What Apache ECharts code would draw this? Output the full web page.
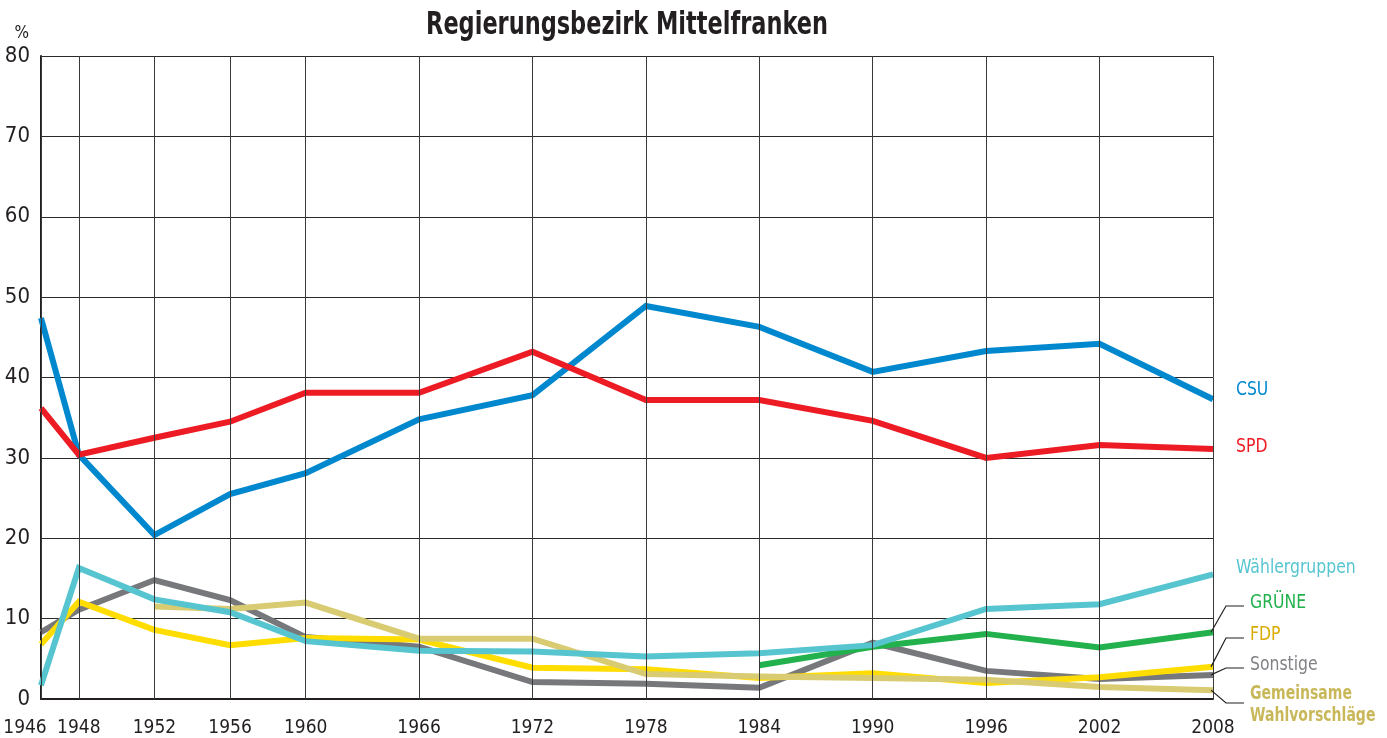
<!DOCTYPE html>
<html>
<head>
<meta charset="utf-8">
<script src="https://cdn.jsdelivr.net/npm/echarts@6/dist/echarts.min.js"></script>
<style>
  html, body { margin: 0; padding: 0; background: #fff; }
  #chart { width: 1387px; height: 738px; }
</style>
</head>
<body>
<div id="chart"></div>
<script>
const FONT = "'Liberation Sans Narrow', 'DejaVu Sans Condensed', sans-serif";

// election years (x axis) and y ticks
const years = [1946, 1948, 1952, 1956, 1960, 1966, 1972, 1978, 1984, 1990, 1996, 2002, 2008];
const yTicks = [0, 10, 20, 30, 40, 50, 60, 70, 80];

// vote shares in %, null where the party did not run
const csu = [47.4, 30.4, 20.4, 25.5, 28.1, 34.8, 37.8, 48.9, 46.3, 40.7, 43.3, 44.2, 37.3];
const spd = [36.2, 30.4, 32.5, 34.5, 38.1, 38.1, 43.2, 37.2, 37.2, 34.6, 30.0, 31.6, 31.1];
const waehlergruppen = [1.7, 16.3, 12.4, 10.8, 7.2, 6.0, 5.9, 5.3, 5.7, 6.7, 11.2, 11.8, 15.5];
const sonstige = [8.3, 11.1, 14.8, 12.3, 7.7, 6.5, 2.1, 1.9, 1.4, 7.0, 3.5, 2.5, 3.0];
const fdp = [6.8, 12.1, 8.6, 6.7, 7.6, 7.4, 3.9, 3.7, 2.6, 3.2, 2.0, 2.7, 4.0];
const gemeinsame = [null, null, 11.5, 11.2, 12.0, 7.5, 7.5, 3.1, 2.8, 2.6, 2.4, 1.5, 1.1];
const gruene = [null, null, null, null, null, null, null, null, 4.2, 6.5, 8.1, 6.4, 8.3];

const parties = [
  { name: "Sonstige", data: sonstige, color: "#77787b", labelColor: "#808285", labelY: 665, leader: true },
  { name: "FDP", data: fdp, color: "#ffdd00", labelColor: "#d9ad00", labelY: 635, leader: true },
  { name: "Gemeinsame\nWahlvorschläge", data: gemeinsame, color: "#d9cb72", labelColor: "#c9b85a", labelY: 705, leader: true, bold: true },
  { name: "GRÜNE", data: gruene, color: "#22b14c", labelColor: "#22b14c", labelY: 603, leader: true },
  { name: "Wählergruppen", data: waehlergruppen, color: "#56c5d0", labelColor: "#56c5d0", labelY: 568 },
  { name: "CSU", data: csu, color: "#0088cf", labelColor: "#0088cf", labelY: 390 },
  { name: "SPD", data: spd, color: "#ed1c24", labelColor: "#ed1c24", labelY: 447 },
];

const chart = echarts.init(document.getElementById("chart"));

const series = [
  {
    // holds the vertical grid lines at each election year, under the data
    type: "line",
    data: [],
    z: 1,
    silent: true,
    markLine: {
      silent: true,
      symbol: "none",
      label: { show: false },
      lineStyle: { color: "#3a3a3a", width: 1, type: "solid" },
      data: years.map((y) => ({ xAxis: y })),
      animation: false,
    },
  },
];
parties.forEach((p) => {
  series.push({
    name: p.name,
    type: "line",
    data: years.map((y, i) => [y, p.data[i]]),
    showSymbol: false,
    symbol: "none",
    connectNulls: false,
    lineStyle: { color: p.color, width: 6, join: "miter" },
    itemStyle: { color: p.color },
    z: 3,
  });
});

chart.setOption({
  animation: false,
  grid: { left: 41, right: 174, top: 56, bottom: 39, containLabel: false, outerBoundsMode: "none" },
  xAxis: {
    type: "value",
    min: 1946,
    max: 2008,
    axisLine: { show: true, lineStyle: { color: "#231f20", width: 2 } },
    axisTick: { show: false, customValues: years },
    splitLine: { show: false },
    axisLabel: {
      customValues: years,
      showMinLabel: true,
      showMaxLabel: true,
      hideOverlap: false,
      margin: 20,
      fontFamily: FONT,
      fontSize: 19,
      color: "#231f20",
      formatter: (v) => (v === years[0] ? "{first|" + v + "}" : String(v)),
      rich: {
        first: { fontFamily: FONT, fontSize: 19, color: "#231f20", padding: [0, 32, 0, 0] },
      },
    },
  },
  yAxis: {
    type: "value",
    min: 0,
    max: 80,
    interval: 10,
    name: "%",
    nameLocation: "end",
    nameGap: 14,
    nameTextStyle: { fontFamily: FONT, fontSize: 17, color: "#231f20", align: "right", padding: [0, 12, 0, 0] },
    axisLine: { show: true, lineStyle: { color: "#231f20", width: 2 } },
    axisTick: { show: false },
    splitLine: { show: true, lineStyle: { color: "#2a2a2a", width: 1 } },
    axisLabel: {
      margin: 11,
      fontFamily: FONT,
      fontSize: 22,
      color: "#231f20",
      formatter: (v) => (yTicks.includes(v) ? String(v) : ""),
    },
  },
  series: series,
});

// title and end labels as graphics so they can be squeezed to a condensed look
const graphics = [
  {
    type: "text",
    x: 627,
    y: 26,
    scaleX: 0.78,
    style: {
      text: "Regierungsbezirk Mittelfranken",
      fill: "#231f20",
      font: "bold 32px " + FONT,
      textAlign: "center",
      textVerticalAlign: "middle",
    },
    z: 10,
  },
];
parties.forEach((p) => {
  const lastIdx = p.data.length - 1;
  const end = chart.convertToPixel({ gridIndex: 0 }, [years[lastIdx], p.data[lastIdx]]);
  let textX = end[0] + 23;
  if (p.leader) {
    const elbowX = end[0] + 13;
    const lineY = p.bold ? p.labelY - 2 : p.labelY + 3;
    textX = end[0] + 37;
    graphics.push({
      type: "polyline",
      shape: { points: [[end[0] - 2, end[1]], [elbowX, lineY], [end[0] + 31, lineY]] },
      style: { stroke: "#231f20", lineWidth: 1.2, fill: null },
      z: 10,
    });
  }
  graphics.push({
    type: "text",
    x: textX,
    y: p.labelY,
    scaleX: p.bold ? 0.78 : 0.87,
    style: {
      text: p.name,
      fill: p.labelColor,
      font: (p.bold ? "bold " : "") + "20px " + FONT,
      textVerticalAlign: "middle",
      lineHeight: 22,
    },
    z: 10,
  });
});
chart.setOption({ graphic: graphics });
</script>
</body>
</html>
